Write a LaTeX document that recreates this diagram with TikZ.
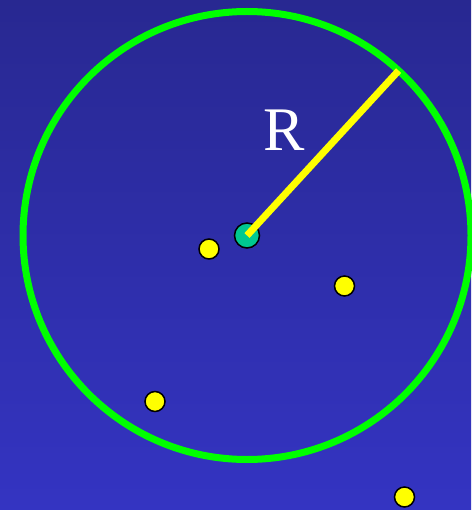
\documentclass[tikz,border=0pt]{standalone}
\usepackage{fontspec}
\setmainfont{Liberation Serif}
\usetikzlibrary{calc}
\definecolor{bgtop}{HTML}{282891}
\definecolor{bgbot}{HTML}{3434C2}
\definecolor{ringgreen}{HTML}{00FF00}
\definecolor{centergreen}{HTML}{00C890}
\definecolor{dotyellow}{HTML}{FFFF00}
\begin{document}
\begin{tikzpicture}[x=1pt,y=-1pt,
  dot/.style={circle,fill=dotyellow,draw=black,line width=1.5pt,minimum size=20pt,inner sep=0pt},
  cdot/.style={circle,fill=centergreen,draw=black,line width=1.5pt,minimum size=25pt,inner sep=0pt}]
\useasboundingbox (0,0) rectangle (471,510);
\shade[top color=bgtop,bottom color=bgbot] (0,0) rectangle (471,510);
\coordinate (c) at (247,235.5);
\draw[ringgreen,line width=7pt] (c) circle[radius=224];
\node[cdot] (center) at (c) {};
\coordinate (rim) at ($(c)+(-47.4:224)$);
\draw[dotyellow,line width=7pt] (c) -- (rim);
\node[text=white,font=\fontsize{62}{62}\selectfont] (r) at (284,130) {R};
\node[dot] (d1) at (209,249) {};
\node[dot] (d2) at (344.5,286) {};
\node[dot] (d3) at (155,401.5) {};
\node[dot] (d4) at (404.5,497) {};
\end{tikzpicture}
\end{document}
